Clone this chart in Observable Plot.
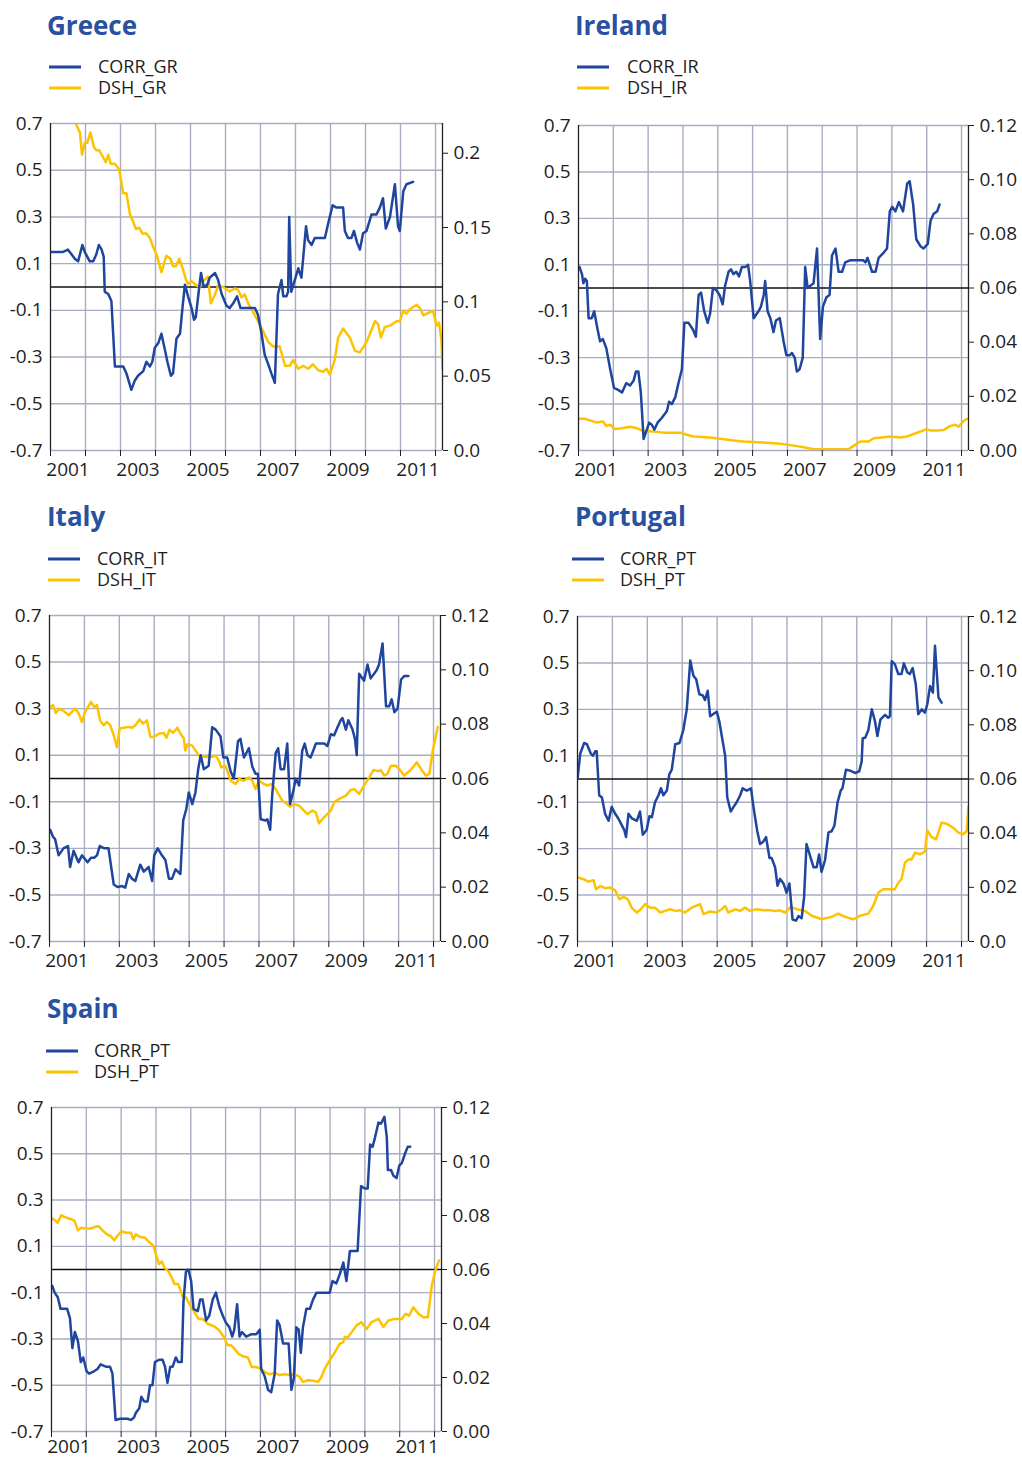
<!DOCTYPE html>
<html><head><meta charset="utf-8">
<script src="https://cdn.jsdelivr.net/npm/d3@7"></script>
<script src="https://cdn.jsdelivr.net/npm/@observablehq/plot@0.6"></script>
<style>
body{margin:0;background:#fff;}
#page{position:relative;width:1022px;height:1460px;overflow:hidden;font-family:"Open Sans",sans-serif;}
.panel{position:absolute;}
#overlay{position:absolute;left:0;top:0;pointer-events:none;}
</style></head><body><div id="page"></div>
<script>
// ---------- shared axis data ----------
const LEFT_TICKS = [-0.7, -0.5, -0.3, -0.1, 0.1, 0.3, 0.5, 0.7];
const YEAR_GRID = [2001, 2002, 2003, 2004, 2005, 2006, 2007, 2008, 2009, 2010, 2011, 2012];
const YEAR_LABELS = [2001, 2003, 2005, 2007, 2009, 2011];
const X_DOMAIN = [2001, 2012.2];
const RIGHT_TICKS_GR = [0, 0.05, 0.1, 0.15, 0.2];
const RIGHT_LABELS_GR = ["0.0", "0.05", "0.1", "0.15", "0.2"];
const RIGHT_TICKS_STD = [0, 0.02, 0.04, 0.06, 0.08, 0.10, 0.12];
const RIGHT_LABELS_STD = ["0.00", "0.02", "0.04", "0.06", "0.08", "0.10", "0.12"];
const RIGHT_LABELS_PT = ["0.0", "0.02", "0.04", "0.06", "0.08", "0.10", "0.12"];

// ---------- series: [decimal year, value] ----------
const CORR_GR = [[2001.03,0.15],[2001.36,0.15],[2001.50,0.16],[2001.70,0.12],[2001.79,0.11],[2001.91,0.18],[2001.98,0.15],[2002.12,0.11],[2002.22,0.11],[2002.31,0.14],[2002.38,0.18],[2002.46,0.16],[2002.52,0.13],[2002.55,-0.02],[2002.65,-0.03],[2002.74,-0.06],[2002.84,-0.34],[2003.08,-0.34],[2003.17,-0.37],[2003.31,-0.44],[2003.41,-0.40],[2003.50,-0.38],[2003.65,-0.36],[2003.74,-0.32],[2003.84,-0.34],[2003.91,-0.32],[2003.98,-0.26],[2004.08,-0.24],[2004.17,-0.20],[2004.27,-0.27],[2004.34,-0.32],[2004.44,-0.38],[2004.50,-0.37],[2004.60,-0.22],[2004.70,-0.20],[2004.77,-0.09],[2004.84,0.01],[2004.93,-0.04],[2005.03,-0.09],[2005.10,-0.14],[2005.15,-0.13],[2005.25,0.00],[2005.30,0.06],[2005.38,0.00],[2005.48,0.01],[2005.55,0.04],[2005.70,0.06],[2005.79,0.03],[2005.89,-0.03],[2006.03,-0.08],[2006.12,-0.09],[2006.22,-0.07],[2006.33,-0.04],[2006.43,-0.09],[2006.55,-0.09],[2006.70,-0.09],[2006.84,-0.09],[2006.93,-0.12],[2007.03,-0.20],[2007.12,-0.29],[2007.22,-0.33],[2007.31,-0.37],[2007.41,-0.41],[2007.50,-0.03],[2007.60,0.03],[2007.65,-0.04],[2007.74,-0.04],[2007.79,-0.02],[2007.82,0.30],[2007.88,-0.02],[2007.98,0.03],[2008.08,0.08],[2008.17,0.04],[2008.30,0.26],[2008.36,0.20],[2008.46,0.18],[2008.55,0.21],[2008.70,0.21],[2008.84,0.21],[2008.93,0.27],[2009.06,0.35],[2009.17,0.34],[2009.27,0.34],[2009.36,0.34],[2009.41,0.24],[2009.50,0.21],[2009.60,0.21],[2009.67,0.24],[2009.76,0.19],[2009.84,0.16],[2009.93,0.23],[2010.03,0.24],[2010.17,0.31],[2010.31,0.31],[2010.41,0.34],[2010.50,0.38],[2010.58,0.25],[2010.70,0.30],[2010.84,0.44],[2010.93,0.26],[2010.98,0.24],[2011.08,0.41],[2011.17,0.44],[2011.36,0.45]];
const DSH_GR = [[2001.74,0.219],[2001.84,0.214],[2001.90,0.199],[2001.98,0.207],[2002.05,0.207],[2002.14,0.214],[2002.24,0.204],[2002.31,0.202],[2002.39,0.202],[2002.46,0.199],[2002.58,0.194],[2002.65,0.199],[2002.72,0.193],[2002.84,0.193],[2002.96,0.189],[2003.08,0.173],[2003.17,0.173],[2003.27,0.159],[2003.36,0.154],[2003.44,0.149],[2003.53,0.150],[2003.63,0.146],[2003.74,0.146],[2003.84,0.143],[2003.93,0.137],[2004.03,0.132],[2004.17,0.120],[2004.31,0.131],[2004.43,0.129],[2004.50,0.124],[2004.58,0.124],[2004.68,0.129],[2004.77,0.123],[2004.87,0.115],[2004.93,0.112],[2005.03,0.114],[2005.17,0.111],[2005.27,0.110],[2005.36,0.114],[2005.50,0.117],[2005.58,0.099],[2005.70,0.105],[2005.79,0.111],[2005.93,0.110],[2006.12,0.107],[2006.27,0.109],[2006.36,0.108],[2006.46,0.103],[2006.55,0.105],[2006.65,0.099],[2006.79,0.093],[2006.93,0.087],[2007.08,0.080],[2007.22,0.073],[2007.36,0.070],[2007.55,0.070],[2007.70,0.057],[2007.84,0.057],[2007.93,0.061],[2008.08,0.055],[2008.22,0.057],[2008.36,0.055],[2008.50,0.058],[2008.65,0.054],[2008.79,0.053],[2008.89,0.055],[2008.98,0.051],[2009.12,0.061],[2009.22,0.076],[2009.36,0.082],[2009.55,0.076],[2009.70,0.067],[2009.84,0.066],[2010.03,0.073],[2010.12,0.078],[2010.27,0.087],[2010.36,0.085],[2010.44,0.076],[2010.55,0.083],[2010.70,0.084],[2010.89,0.087],[2010.98,0.087],[2011.08,0.094],[2011.17,0.092],[2011.27,0.095],[2011.46,0.098],[2011.55,0.096],[2011.65,0.091],[2011.93,0.094],[2012.03,0.084],[2012.10,0.086],[2012.17,0.074],[2012.20,0.055]];

const CORR_IR = [[2001.03,0.09],[2001.10,0.06],[2001.14,0.02],[2001.19,0.04],[2001.24,0.03],[2001.29,-0.13],[2001.38,-0.13],[2001.45,-0.10],[2001.55,-0.18],[2001.62,-0.23],[2001.70,-0.22],[2001.80,-0.26],[2001.91,-0.35],[2002.02,-0.43],[2002.15,-0.44],[2002.25,-0.45],[2002.37,-0.41],[2002.48,-0.42],[2002.58,-0.40],[2002.65,-0.36],[2002.72,-0.36],[2002.79,-0.45],[2002.87,-0.65],[2002.94,-0.62],[2003.03,-0.58],[2003.11,-0.59],[2003.18,-0.61],[2003.27,-0.58],[2003.39,-0.56],[2003.54,-0.53],[2003.60,-0.49],[2003.68,-0.50],[2003.78,-0.47],[2003.87,-0.41],[2003.97,-0.35],[2004.04,-0.15],[2004.16,-0.15],[2004.29,-0.18],[2004.37,-0.21],[2004.45,-0.03],[2004.52,-0.02],[2004.61,-0.10],[2004.71,-0.15],[2004.78,-0.11],[2004.86,0.00],[2004.96,-0.01],[2005.05,-0.03],[2005.14,-0.07],[2005.21,0.01],[2005.31,0.07],[2005.38,0.08],[2005.45,0.06],[2005.53,0.07],[2005.61,0.05],[2005.69,0.09],[2005.79,0.09],[2005.87,0.10],[2005.93,0.03],[2006.03,-0.13],[2006.17,-0.10],[2006.24,-0.08],[2006.32,-0.03],[2006.36,0.03],[2006.43,-0.10],[2006.51,-0.13],[2006.60,-0.19],[2006.67,-0.14],[2006.78,-0.13],[2006.89,-0.23],[2006.97,-0.29],[2007.06,-0.29],[2007.13,-0.28],[2007.21,-0.30],[2007.27,-0.36],[2007.35,-0.35],[2007.44,-0.30],[2007.51,0.09],[2007.58,0.00],[2007.66,0.01],[2007.75,0.02],[2007.85,0.17],[2007.94,-0.22],[2008.02,-0.08],[2008.12,-0.04],[2008.21,-0.03],[2008.28,0.14],[2008.38,0.17],[2008.47,0.07],[2008.57,0.07],[2008.66,0.11],[2008.81,0.12],[2009.00,0.12],[2009.17,0.12],[2009.24,0.11],[2009.30,0.13],[2009.43,0.07],[2009.53,0.07],[2009.62,0.13],[2009.75,0.15],[2009.86,0.17],[2009.94,0.33],[2010.01,0.35],[2010.10,0.33],[2010.20,0.37],[2010.32,0.33],[2010.44,0.45],[2010.51,0.46],[2010.61,0.36],[2010.70,0.21],[2010.82,0.18],[2010.91,0.17],[2011.03,0.19],[2011.11,0.29],[2011.20,0.32],[2011.30,0.33],[2011.37,0.36]];
const DSH_IR = [[2001.03,0.0117],[2001.19,0.0117],[2001.38,0.0109],[2001.53,0.0103],[2001.70,0.0107],[2001.80,0.0091],[2001.91,0.0095],[2002.05,0.0079],[2002.25,0.0082],[2002.48,0.0088],[2002.68,0.0082],[2002.87,0.0072],[2003.16,0.0070],[2003.44,0.0066],[2003.73,0.0066],[2003.92,0.0066],[2004.11,0.0058],[2004.30,0.0052],[2004.69,0.0049],[2005.07,0.0043],[2005.45,0.0037],[2005.74,0.0033],[2006.03,0.0031],[2006.41,0.0029],[2006.80,0.0025],[2007.18,0.0018],[2007.47,0.0012],[2007.75,0.0005],[2008.14,0.0005],[2008.52,0.0005],[2008.76,0.0005],[2008.90,0.0017],[2009.09,0.0033],[2009.33,0.0033],[2009.48,0.0045],[2009.76,0.0049],[2009.96,0.0052],[2010.24,0.0048],[2010.44,0.0052],[2010.63,0.0061],[2010.82,0.0070],[2010.99,0.0079],[2011.11,0.0074],[2011.30,0.0074],[2011.49,0.0076],[2011.68,0.0091],[2011.82,0.0095],[2011.92,0.0088],[2012.06,0.0109],[2012.16,0.0117]];

const CORR_IT = [[2001.02,-0.22],[2001.10,-0.25],[2001.16,-0.26],[2001.26,-0.33],[2001.40,-0.30],[2001.53,-0.29],[2001.59,-0.38],[2001.69,-0.31],[2001.83,-0.36],[2001.93,-0.33],[2002.09,-0.36],[2002.19,-0.34],[2002.28,-0.34],[2002.36,-0.33],[2002.44,-0.29],[2002.57,-0.30],[2002.69,-0.30],[2002.84,-0.455],[2002.95,-0.466],[2003.08,-0.462],[2003.17,-0.469],[2003.27,-0.41],[2003.36,-0.43],[2003.46,-0.44],[2003.60,-0.37],[2003.70,-0.40],[2003.84,-0.38],[2003.94,-0.44],[2004.00,-0.33],[2004.10,-0.30],[2004.22,-0.33],[2004.32,-0.35],[2004.42,-0.43],[2004.51,-0.43],[2004.61,-0.39],[2004.75,-0.41],[2004.83,-0.18],[2004.92,-0.13],[2004.99,-0.06],[2005.09,-0.11],[2005.18,-0.06],[2005.26,0.04],[2005.33,0.10],[2005.42,0.04],[2005.56,0.055],[2005.66,0.22],[2005.76,0.21],[2005.90,0.18],[2005.98,0.09],[2006.09,0.09],[2006.19,0.03],[2006.28,0.00],[2006.40,0.16],[2006.47,0.17],[2006.57,0.09],[2006.71,0.13],[2006.81,0.05],[2006.90,0.02],[2006.97,0.02],[2007.05,-0.175],[2007.19,-0.18],[2007.24,-0.175],[2007.32,-0.22],[2007.38,-0.07],[2007.48,0.11],[2007.55,0.13],[2007.62,0.04],[2007.72,0.04],[2007.81,0.15],[2007.89,-0.11],[2007.99,-0.05],[2008.05,0.00],[2008.15,-0.03],[2008.24,0.12],[2008.31,0.15],[2008.39,0.10],[2008.48,0.09],[2008.63,0.15],[2008.87,0.15],[2008.96,0.14],[2009.06,0.19],[2009.15,0.185],[2009.25,0.22],[2009.34,0.25],[2009.39,0.26],[2009.49,0.21],[2009.56,0.25],[2009.68,0.21],[2009.75,0.17],[2009.80,0.10],[2009.87,0.45],[2010.01,0.42],[2010.11,0.49],[2010.20,0.43],[2010.37,0.465],[2010.44,0.49],[2010.54,0.58],[2010.64,0.31],[2010.73,0.31],[2010.80,0.34],[2010.88,0.285],[2010.97,0.30],[2011.07,0.425],[2011.16,0.44],[2011.28,0.44]];
const DSH_IT = [[2001.02,0.0863],[2001.10,0.0870],[2001.18,0.0841],[2001.28,0.0857],[2001.40,0.0849],[2001.55,0.0833],[2001.64,0.0845],[2001.74,0.0857],[2001.83,0.0841],[2001.93,0.0808],[2002.02,0.0845],[2002.19,0.0882],[2002.28,0.0863],[2002.36,0.0870],[2002.45,0.0814],[2002.55,0.0796],[2002.65,0.0808],[2002.74,0.0796],[2002.84,0.0759],[2002.93,0.0715],[2003.01,0.0784],[2003.12,0.0787],[2003.27,0.0790],[2003.36,0.0787],[2003.46,0.0796],[2003.58,0.0817],[2003.68,0.0802],[2003.79,0.0814],[2003.89,0.0753],[2003.99,0.0753],[2004.13,0.0765],[2004.27,0.0768],[2004.35,0.0750],[2004.44,0.0780],[2004.54,0.0768],[2004.66,0.0787],[2004.75,0.0765],[2004.85,0.0747],[2004.89,0.0703],[2004.96,0.0727],[2005.09,0.0721],[2005.28,0.0684],[2005.42,0.0680],[2005.61,0.0678],[2005.76,0.0684],[2005.85,0.0666],[2005.92,0.0641],[2006.04,0.0647],[2006.19,0.0592],[2006.33,0.0580],[2006.43,0.0598],[2006.57,0.0592],[2006.71,0.0604],[2006.81,0.0592],[2006.90,0.0561],[2007.00,0.0592],[2007.14,0.0580],[2007.24,0.0574],[2007.35,0.0580],[2007.48,0.0561],[2007.67,0.0518],[2007.81,0.0506],[2007.89,0.0496],[2008.00,0.0506],[2008.15,0.0500],[2008.29,0.0482],[2008.39,0.0469],[2008.53,0.0482],[2008.63,0.0475],[2008.72,0.0435],[2008.82,0.0451],[2008.96,0.0469],[2009.06,0.0482],[2009.15,0.0512],[2009.30,0.0525],[2009.49,0.0537],[2009.63,0.0558],[2009.73,0.0561],[2009.87,0.0543],[2010.01,0.0574],[2010.16,0.0604],[2010.28,0.0631],[2010.40,0.0627],[2010.49,0.0631],[2010.59,0.0611],[2010.68,0.0617],[2010.78,0.0647],[2010.92,0.0647],[2011.02,0.0635],[2011.16,0.0611],[2011.35,0.0631],[2011.52,0.0660],[2011.64,0.0635],[2011.78,0.0611],[2011.88,0.0617],[2011.98,0.0703],[2012.12,0.0790]];

const CORR_PT = [[2001.00,0.00],[2001.08,0.11],[2001.19,0.155],[2001.27,0.15],[2001.38,0.11],[2001.44,0.10],[2001.51,0.12],[2001.55,0.12],[2001.62,-0.07],[2001.70,-0.08],[2001.79,-0.15],[2001.89,-0.18],[2001.98,-0.12],[2002.08,-0.15],[2002.17,-0.17],[2002.27,-0.20],[2002.34,-0.22],[2002.39,-0.25],[2002.46,-0.15],[2002.56,-0.17],[2002.70,-0.18],[2002.79,-0.14],[2002.87,-0.24],[2002.98,-0.22],[2003.06,-0.16],[2003.13,-0.165],[2003.22,-0.10],[2003.32,-0.07],[2003.39,-0.04],[2003.46,-0.07],[2003.56,-0.05],[2003.63,0.02],[2003.70,0.04],[2003.80,0.15],[2003.92,0.155],[2004.03,0.21],[2004.13,0.30],[2004.23,0.51],[2004.32,0.445],[2004.40,0.43],[2004.49,0.365],[2004.59,0.36],[2004.65,0.34],[2004.73,0.38],[2004.80,0.27],[2004.89,0.28],[2004.99,0.29],[2005.06,0.25],[2005.23,0.10],[2005.29,-0.08],[2005.39,-0.14],[2005.47,-0.12],[2005.56,-0.10],[2005.66,-0.07],[2005.73,-0.04],[2005.85,-0.05],[2005.97,-0.04],[2006.04,-0.12],[2006.15,-0.225],[2006.23,-0.28],[2006.32,-0.27],[2006.40,-0.25],[2006.50,-0.34],[2006.56,-0.34],[2006.66,-0.38],[2006.73,-0.46],[2006.80,-0.43],[2006.90,-0.45],[2006.99,-0.49],[2007.07,-0.45],[2007.16,-0.605],[2007.26,-0.61],[2007.33,-0.59],[2007.42,-0.60],[2007.49,-0.51],[2007.56,-0.28],[2007.66,-0.33],[2007.76,-0.38],[2007.85,-0.38],[2007.92,-0.325],[2007.99,-0.40],[2008.09,-0.35],[2008.19,-0.23],[2008.28,-0.225],[2008.36,-0.20],[2008.45,-0.10],[2008.54,-0.05],[2008.59,-0.04],[2008.69,0.04],[2008.81,0.036],[2008.95,0.026],[2009.07,0.033],[2009.14,0.076],[2009.17,0.176],[2009.24,0.178],[2009.33,0.21],[2009.43,0.30],[2009.52,0.25],[2009.59,0.185],[2009.68,0.257],[2009.81,0.276],[2009.90,0.264],[2009.95,0.271],[2010.00,0.507],[2010.09,0.495],[2010.19,0.452],[2010.28,0.452],[2010.35,0.498],[2010.45,0.459],[2010.52,0.452],[2010.60,0.478],[2010.69,0.408],[2010.76,0.279],[2010.86,0.30],[2010.95,0.286],[2011.02,0.322],[2011.10,0.401],[2011.18,0.372],[2011.24,0.574],[2011.34,0.351],[2011.43,0.329]];
const DSH_PT = [[2001.03,0.0236],[2001.17,0.0230],[2001.31,0.0221],[2001.46,0.0226],[2001.53,0.0193],[2001.65,0.0205],[2001.79,0.0197],[2001.93,0.0199],[2002.08,0.0189],[2002.20,0.0156],[2002.32,0.0165],[2002.44,0.0156],[2002.56,0.0123],[2002.70,0.0107],[2002.81,0.0119],[2002.94,0.0138],[2003.08,0.0125],[2003.22,0.0125],[2003.37,0.0107],[2003.51,0.0113],[2003.65,0.0119],[2003.80,0.0113],[2003.94,0.0115],[2004.08,0.0107],[2004.27,0.0125],[2004.51,0.0138],[2004.61,0.0101],[2004.80,0.0111],[2004.99,0.0107],[2005.13,0.0119],[2005.23,0.0131],[2005.32,0.0107],[2005.51,0.0119],[2005.66,0.0113],[2005.80,0.0125],[2005.94,0.0113],[2006.13,0.0119],[2006.32,0.0115],[2006.52,0.0115],[2006.66,0.0113],[2006.80,0.0115],[2006.95,0.0107],[2007.11,0.0128],[2007.28,0.0119],[2007.52,0.0113],[2007.71,0.0095],[2007.99,0.0082],[2008.28,0.0091],[2008.47,0.0103],[2008.66,0.0091],[2008.90,0.0082],[2009.09,0.0095],[2009.33,0.0103],[2009.47,0.0131],[2009.62,0.0181],[2009.76,0.0193],[2009.95,0.0193],[2010.09,0.0193],[2010.19,0.0217],[2010.28,0.0230],[2010.38,0.0291],[2010.48,0.0303],[2010.57,0.0303],[2010.67,0.0328],[2010.81,0.0322],[2010.95,0.0332],[2011.02,0.0410],[2011.14,0.0386],[2011.27,0.0377],[2011.43,0.0439],[2011.57,0.0435],[2011.76,0.0420],[2011.91,0.0402],[2012.05,0.0396],[2012.15,0.0408],[2012.20,0.0500]];

const CORR_ES = [[2001.02,-0.07],[2001.09,-0.10],[2001.18,-0.12],[2001.26,-0.17],[2001.40,-0.17],[2001.45,-0.17],[2001.53,-0.21],[2001.60,-0.34],[2001.67,-0.27],[2001.76,-0.31],[2001.84,-0.40],[2001.91,-0.38],[2002.01,-0.44],[2002.08,-0.45],[2002.22,-0.44],[2002.32,-0.43],[2002.41,-0.41],[2002.56,-0.42],[2002.68,-0.42],[2002.75,-0.45],[2002.84,-0.65],[2002.97,-0.645],[2003.08,-0.645],[2003.18,-0.645],[2003.28,-0.65],[2003.37,-0.64],[2003.42,-0.62],[2003.52,-0.60],[2003.58,-0.55],[2003.66,-0.57],[2003.76,-0.57],[2003.83,-0.50],[2003.90,-0.50],[2003.97,-0.40],[2004.09,-0.39],[2004.19,-0.39],[2004.26,-0.42],[2004.33,-0.49],[2004.41,-0.42],[2004.48,-0.42],[2004.57,-0.38],[2004.64,-0.40],[2004.74,-0.40],[2004.79,-0.14],[2004.86,-0.01],[2004.93,0.00],[2005.01,-0.05],[2005.08,-0.17],[2005.20,-0.18],[2005.27,-0.13],[2005.34,-0.13],[2005.44,-0.22],[2005.53,-0.20],[2005.63,-0.13],[2005.72,-0.10],[2005.82,-0.16],[2005.92,-0.20],[2006.01,-0.23],[2006.11,-0.25],[2006.19,-0.29],[2006.25,-0.26],[2006.33,-0.15],[2006.40,-0.29],[2006.47,-0.27],[2006.59,-0.29],[2006.73,-0.28],[2006.88,-0.28],[2006.98,-0.26],[2007.02,-0.43],[2007.12,-0.46],[2007.22,-0.52],[2007.31,-0.53],[2007.41,-0.45],[2007.48,-0.22],[2007.55,-0.24],[2007.65,-0.32],[2007.74,-0.32],[2007.81,-0.32],[2007.89,-0.52],[2007.96,-0.47],[2008.03,-0.25],[2008.10,-0.26],[2008.16,-0.36],[2008.22,-0.25],[2008.32,-0.17],[2008.42,-0.17],[2008.51,-0.13],[2008.61,-0.10],[2008.75,-0.10],[2008.90,-0.10],[2008.99,-0.10],[2009.07,-0.05],[2009.18,-0.06],[2009.28,-0.02],[2009.38,0.03],[2009.47,-0.05],[2009.57,0.08],[2009.71,0.08],[2009.79,0.08],[2009.89,0.36],[2010.00,0.35],[2010.08,0.35],[2010.15,0.54],[2010.22,0.53],[2010.29,0.57],[2010.39,0.635],[2010.46,0.63],[2010.56,0.66],[2010.63,0.57],[2010.66,0.43],[2010.75,0.43],[2010.82,0.405],[2010.91,0.395],[2010.99,0.45],[2011.06,0.46],[2011.15,0.50],[2011.23,0.53],[2011.30,0.53]];
const DSH_ES = [[2001.02,0.0789],[2001.09,0.0783],[2001.18,0.0773],[2001.28,0.0801],[2001.37,0.0795],[2001.50,0.0789],[2001.59,0.0785],[2001.66,0.0780],[2001.76,0.0745],[2001.86,0.0755],[2001.98,0.0752],[2002.12,0.0752],[2002.27,0.0759],[2002.36,0.0760],[2002.44,0.0748],[2002.59,0.0730],[2002.70,0.0724],[2002.80,0.0708],[2002.89,0.0724],[2003.01,0.0742],[2003.13,0.0736],[2003.28,0.0736],[2003.35,0.0712],[2003.42,0.0730],[2003.55,0.0720],[2003.68,0.0718],[2003.83,0.0699],[2003.93,0.0687],[2004.00,0.0656],[2004.09,0.0620],[2004.17,0.0630],[2004.24,0.0607],[2004.35,0.0595],[2004.45,0.0571],[2004.53,0.0546],[2004.64,0.0546],[2004.77,0.0499],[2004.86,0.0497],[2004.96,0.0472],[2005.08,0.0448],[2005.22,0.0417],[2005.34,0.0417],[2005.49,0.0399],[2005.68,0.0389],[2005.82,0.0374],[2005.95,0.0350],[2006.06,0.0319],[2006.16,0.0319],[2006.25,0.0307],[2006.37,0.0288],[2006.49,0.0279],[2006.64,0.0274],[2006.75,0.0239],[2006.88,0.0239],[2007.00,0.0233],[2007.12,0.0221],[2007.26,0.0212],[2007.41,0.0217],[2007.55,0.0209],[2007.70,0.0212],[2007.84,0.0209],[2007.98,0.0212],[2008.13,0.0202],[2008.22,0.0184],[2008.37,0.0190],[2008.51,0.0188],[2008.66,0.0184],[2008.75,0.0202],[2008.85,0.0233],[2008.99,0.0264],[2009.14,0.0294],[2009.28,0.0325],[2009.38,0.0331],[2009.42,0.0350],[2009.52,0.0350],[2009.62,0.0368],[2009.76,0.0393],[2009.90,0.0405],[2010.05,0.0380],[2010.19,0.0405],[2010.39,0.0417],[2010.53,0.0387],[2010.67,0.0411],[2010.86,0.0417],[2011.06,0.0417],[2011.17,0.0436],[2011.27,0.0429],[2011.39,0.0460],[2011.54,0.0436],[2011.68,0.0423],[2011.81,0.0423],[2011.92,0.0540],[2012.02,0.0595],[2012.13,0.0634]];

// ---------- style ----------
const BLUE = "#1f459e";
const YELLOW = "#fdc300";
const GRID = "#a9adbf";
const TITLE_BLUE = "#2a519f";
const TEXT = "#1e1e1e";
const FONT = '"Open Sans", "Noto Sans", sans-serif';

const panels = [
  {title: "Greece", names: ["CORR_GR", "DSH_GR"], corr: CORR_GR, dsh: DSH_GR, rmax: 0.22, rTicks: RIGHT_TICKS_GR, rLabels: RIGHT_LABELS_GR,
   box: {left: 0, top: 100, w: 500, h: 385, ml: 50, mr: 58, mt: 23, mb: 35, pad: 12},
   titleAt: [47, 35], legend: {x0: 49, x1: 81, tx: 98, y: [67, 88]}},
  {title: "Ireland", names: ["CORR_IR", "DSH_IR"], corr: CORR_IR, dsh: DSH_IR, rmax: 0.12, rTicks: RIGHT_TICKS_STD, rLabels: RIGHT_LABELS_STD,
   box: {left: 520, top: 100, w: 502, h: 385, ml: 58, mr: 54, mt: 25, mb: 35, pad: 12},
   titleAt: [575, 35], legend: {x0: 577, x1: 609, tx: 627, y: [67, 88]}},
  {title: "Italy", names: ["CORR_IT", "DSH_IT"], corr: CORR_IT, dsh: DSH_IT, rmax: 0.12, rTicks: RIGHT_TICKS_STD, rLabels: RIGHT_LABELS_STD,
   box: {left: 0, top: 590, w: 500, h: 385, ml: 49, mr: 60, mt: 25, mb: 34, pad: 12},
   titleAt: [47, 526], legend: {x0: 48, x1: 80, tx: 97, y: [559, 580]}},
  {title: "Portugal", names: ["CORR_PT", "DSH_PT"], corr: CORR_PT, dsh: DSH_PT, rmax: 0.12, rTicks: RIGHT_TICKS_STD, rLabels: RIGHT_LABELS_PT,
   box: {left: 520, top: 590, w: 502, h: 385, ml: 57, mr: 54, mt: 26, mb: 34, pad: 12},
   titleAt: [575, 526], legend: {x0: 572, x1: 604, tx: 620, y: [559, 580]}},
  {title: "Spain", names: ["CORR_PT", "DSH_PT"], corr: CORR_ES, dsh: DSH_ES, rmax: 0.12, rTicks: RIGHT_TICKS_STD, rLabels: RIGHT_LABELS_STD,
   box: {left: 0, top: 1080, w: 500, h: 380, ml: 51, mr: 59, mt: 27, mb: 29, pad: 8},
   titleAt: [47, 1018], legend: {x0: 46, x1: 78, tx: 94, y: [1051, 1072]}}
];

const page = document.getElementById("page");

function makePlot(p) {
  const k = 1.4 / p.rmax;
  const toLeft = r => -0.7 + r * k;
  const corr = p.corr.map(([t, v]) => ({t, v}));
  const dsh = p.dsh.map(([t, r]) => ({t, v: toLeft(r)}));
  const rightPos = p.rTicks.map(toLeft);
  const fmtRight = d => {
    const i = rightPos.findIndex(q => Math.abs(q - d) < 1e-9);
    return i >= 0 ? p.rLabels[i] : "";
  };
  const b = p.box;
  return Plot.plot({
    width: b.w, height: b.h,
    marginLeft: b.ml, marginRight: b.mr, marginTop: b.mt, marginBottom: b.mb,
    style: {fontFamily: FONT, fontSize: "19px", color: TEXT, background: "transparent", overflow: "visible"},
    x: {type: "linear", domain: X_DOMAIN, label: null},
    y: {domain: [-0.7, 0.7], label: null},
    marks: [
      Plot.ruleY(LEFT_TICKS, {stroke: GRID, strokeWidth: 1.4}),
      Plot.ruleX(YEAR_GRID.slice(1), {stroke: GRID, strokeWidth: 1.4}),
      Plot.ruleY([0], {stroke: "#111", strokeWidth: 1.3}),
      Plot.line(dsh, {x: "t", y: "v", stroke: YELLOW, strokeWidth: 2.5, clip: true}),
      Plot.line(corr, {x: "t", y: "v", stroke: BLUE, strokeWidth: 2.5, clip: true}),
      Plot.ruleX([X_DOMAIN[0]], {stroke: "#222", strokeWidth: 1.3}),
      Plot.ruleX([X_DOMAIN[1]], {stroke: "#222", strokeWidth: 1.3}),
      Plot.axisY({ticks: LEFT_TICKS, anchor: "left", tickSize: 0, tickPadding: 8, tickFormat: d => d.toFixed(1), fontSize: 19, label: null}),
      Plot.axisY({ticks: rightPos, anchor: "right", tickSize: 5, tickPadding: 6, tickFormat: fmtRight, fontSize: 19, label: null}),
      Plot.axisX({ticks: YEAR_GRID, anchor: "bottom", tickSize: 6, tickFormat: () => "", label: null}),
      Plot.axisX({ticks: YEAR_LABELS.map(y => y + 0.5), anchor: "bottom", tickSize: 0, tickPadding: b.pad, tickFormat: d => String(Math.floor(d)), fontSize: 19, label: null})
    ]
  });
}

for (const p of panels) {
  const div = document.createElement("div");
  div.className = "panel";
  div.style.left = p.box.left + "px";
  div.style.top = p.box.top + "px";
  div.appendChild(makePlot(p));
  page.appendChild(div);
}

// titles and legends
const ov = d3.select(page).append("svg").attr("id", "overlay").attr("width", 1022).attr("height", 1460)
  .style("font-family", FONT);
for (const p of panels) {
  ov.append("text").attr("x", p.titleAt[0]).attr("y", p.titleAt[1])
    .attr("font-size", 26).attr("font-weight", 700).attr("fill", TITLE_BLUE).text(p.title);
  const L = p.legend;
  [BLUE, YELLOW].forEach((c, i) => {
    ov.append("line").attr("x1", L.x0).attr("x2", L.x1).attr("y1", L.y[i]).attr("y2", L.y[i])
      .attr("stroke", c).attr("stroke-width", 3);
    ov.append("text").attr("x", L.tx).attr("y", L.y[i]).attr("dy", "0.36em")
      .attr("font-size", 18).attr("fill", TEXT).text(p.names[i]);
  });
}
</script></body></html>
